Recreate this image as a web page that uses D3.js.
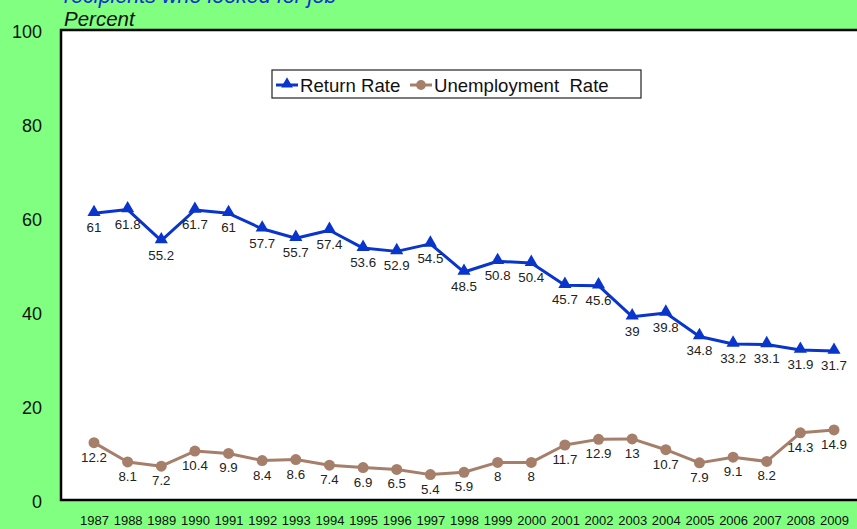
<!DOCTYPE html>
<html>
<head>
<meta charset="utf-8">
<script src="https://cdn.jsdelivr.net/npm/d3@7"></script>
<style>
  html, body { margin: 0; padding: 0; background: #80FF80; }
  svg { display: block; }
  text { font-family: Arial, "Liberation Sans", sans-serif; }
</style>
</head>
<body>
<svg id="chart" width="857" height="529"></svg>
<script>
const years = [1987,1988,1989,1990,1991,1992,1993,1994,1995,1996,1997,1998,1999,2000,2001,2002,2003,2004,2005,2006,2007,2008,2009];
const returnRate = [61,61.8,55.2,61.7,61,57.7,55.7,57.4,53.6,52.9,54.5,48.5,50.8,50.4,45.7,45.6,39,39.8,34.8,33.2,33.1,31.9,31.7];
const unemploymentRate = [12.2,8.1,7.2,10.4,9.9,8.4,8.6,7.4,6.9,6.5,5.4,5.9,8,8,11.7,12.9,13,10.7,7.9,9.1,8.2,14.3,14.9];
const yTicks = [0,20,40,60,80,100];
const seriesNames = ["Return Rate", "Unemployment  Rate"];
const titleText = "recipients who looked for job";
const unitText = "Percent";

const svg = d3.select("#chart");
const W = 857, H = 529;
const plot = {left: 61, top: 30, right: 880, bottom: 500};

svg.append("rect").attr("width", W).attr("height", H).attr("fill", "#80FF80");

const x = d3.scalePoint().domain(years).range([94, 834]);
const y = d3.scaleLinear().domain([0, 100]).range([plot.bottom, plot.top]);

// plot area
svg.append("rect")
  .attr("x", plot.left).attr("y", plot.top)
  .attr("width", plot.right - plot.left).attr("height", plot.bottom - plot.top)
  .attr("fill", "#fff").attr("stroke", "#000").attr("stroke-width", 2.5);

// title fragments
svg.append("text").attr("x", 64).attr("y", 3)
  .attr("font-size", 21.5).attr("font-style", "italic").attr("fill", "#1030D0")
  .text(titleText);
svg.append("text").attr("x", 64).attr("y", 26)
  .attr("font-size", 20.5).attr("font-style", "italic").attr("fill", "#111")
  .text(unitText);

// y axis
const yAxis = d3.axisLeft(y).tickValues(yTicks).tickSize(0).tickPadding(0);
const yg = svg.append("g").attr("transform", "translate(42,1.5)").call(yAxis);
yg.select(".domain").remove();
yg.selectAll("text").attr("font-size", 18).attr("fill", "#111")
  .attr("font-family", "Arial, 'Liberation Sans', sans-serif");

// x axis labels
const xAxis = d3.axisBottom(x).tickSize(0).tickPadding(0);
const xg = svg.append("g").attr("transform", "translate(0,515.5)").call(xAxis);
xg.select(".domain").remove();
xg.selectAll("text").attr("font-size", 13).attr("fill", "#111")
  .attr("font-family", "Arial, 'Liberation Sans', sans-serif");

const blue = "#0A35CC";
const brown = "#A67F6A";

const line = d3.line().x(d => x(d.year)).y(d => y(d.v));
const rData = years.map((yr, i) => ({year: yr, v: returnRate[i]}));
const uData = years.map((yr, i) => ({year: yr, v: unemploymentRate[i]}));

function drawSeries(data, color, marker) {
  svg.append("path").datum(data).attr("d", line)
    .attr("fill", "none").attr("stroke", color).attr("stroke-width", 3)
    .attr("stroke-linejoin", "round");
  const sym = d3.symbol().type(marker === "tri" ? d3.symbolTriangle : d3.symbolCircle)
    .size(marker === "tri" ? 75 : 95);
  svg.append("g").selectAll("path").data(data).join("path")
    .attr("d", sym)
    .attr("transform", d => `translate(${x(d.year)},${y(d.v) + (marker === "tri" ? -1 : 0)})`)
    .attr("fill", color);
  svg.append("g").selectAll("text").data(data).join("text")
    .attr("x", d => x(d.year)).attr("y", d => y(d.v) + 19)
    .attr("text-anchor", "middle").attr("font-size", 13.3).attr("fill", "#222")
    .text(d => d.v);
}
drawSeries(uData, brown, "circ");
drawSeries(rData, blue, "tri");

// legend
const lg = svg.append("g");
lg.append("rect").attr("x", 272).attr("y", 70).attr("width", 369).attr("height", 28)
  .attr("fill", "#fff").attr("stroke", "#222").attr("stroke-width", 1.2);
function legendItem(x0, color, marker, label) {
  lg.append("line").attr("x1", x0).attr("x2", x0 + 22).attr("y1", 85).attr("y2", 85)
    .attr("stroke", color).attr("stroke-width", 3);
  const sym = d3.symbol().type(marker === "tri" ? d3.symbolTriangle : d3.symbolCircle)
    .size(marker === "tri" ? 60 : 75);
  lg.append("path").attr("d", sym).attr("transform", `translate(${x0 + 11},${marker === "tri" ? 84 : 85})`)
    .attr("fill", color);
  lg.append("text").attr("x", x0 + 24).attr("y", 91.5).attr("font-size", 18.6)
    .attr("fill", "#111").attr("xml:space", "preserve").style("white-space", "pre").text(label);
}
legendItem(276, blue, "tri", seriesNames[0]);
legendItem(410, brown, "circ", seriesNames[1]);
</script>
</body>
</html>
